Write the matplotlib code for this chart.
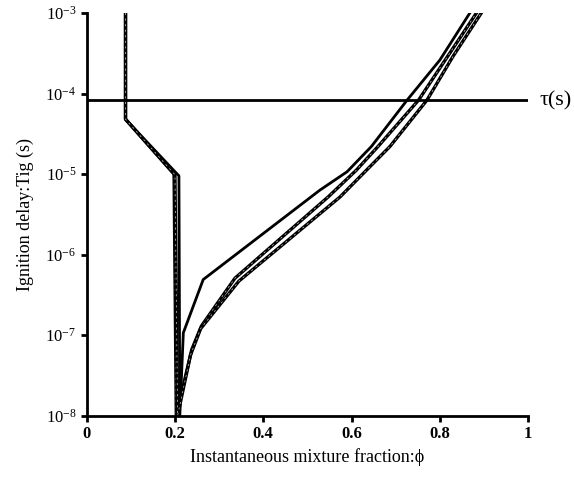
import numpy as np
import matplotlib.pyplot as plt

plt.rcParams['font.family'] = ['Liberation Serif', 'DejaVu Serif']
plt.rcParams['mathtext.fontset'] = 'custom'
plt.rcParams['mathtext.rm'] = 'Liberation Serif'
plt.rcParams['mathtext.bf'] = 'Liberation Serif:bold'

# curves (phi, ignition delay in s)
phi_a = [0.088, 0.088, 0.209, 0.211, 0.219, 0.264, 0.528, 0.59, 0.645, 0.726, 0.80, 0.868]
tig_a = [1e-3, 4.8e-5, 9.5e-6, 1e-8, 1.07e-7, 4.9e-7, 6.3e-6, 1.07e-5, 2.2e-5, 8.3e-5, 2.6e-4, 1e-3]

phi_b = [0.088, 0.088, 0.198, 0.203, 0.238, 0.26, 0.336, 0.547, 0.611, 0.660, 0.752, 0.823, 0.883]
tig_b = [1e-3, 4.8e-5, 1e-5, 1e-8, 6.6e-8, 1.3e-7, 5.1e-7, 5.2e-6, 1.12e-5, 2.2e-5, 8.3e-5, 3.2e-4, 1e-3]

phi_c = [0.088, 0.088, 0.2, 0.206, 0.235, 0.258, 0.345, 0.574, 0.634, 0.687, 0.771, 0.83, 0.894]
tig_c = [1e-3, 4.8e-5, 9.8e-6, 1e-8, 5.6e-8, 1.2e-7, 4.7e-7, 5.2e-6, 1.12e-5, 2.2e-5, 8.3e-5, 2.9e-4, 1e-3]

tau = 8.2e-5

xticks = [0, 0.2, 0.4, 0.6, 0.8, 1]
xlabels = ['0', '0.2', '0.4', '0.6', '0.8', '1']
yticks = [1e-8, 1e-7, 1e-6, 1e-5, 1e-4, 1e-3]
ylabels = [r'$\mathrm{10^{%d}}$' % e for e in range(-8, -2)]

fig = plt.figure(figsize=(5.74, 4.82), dpi=100)
ax = fig.add_axes([0.151, 0.1376, 0.769, 0.8354])

ax.plot(phi_a, tig_a, color='black', lw=2)
for px, ty in [(phi_b, tig_b), (phi_c, tig_c)]:
    ax.plot(px, ty, color='black', lw=2.4)
    ax.plot(px, ty, color='white', lw=0.5, ls=(0, (3, 5)), alpha=0.8)
ax.plot([0, 1], [tau, tau], color='black', lw=2)
ax.text(1.025, tau, 'τ(s)', fontsize=16, va='center', ha='left', clip_on=False)

ax.set_yscale('log')
ax.set_xlim(0, 1)
ax.set_ylim(1e-8, 1e-3)
ax.set_xticks(xticks)
ax.set_xticklabels(xlabels, fontsize=12, fontweight='bold')
ax.set_yticks(yticks)
ax.set_yticklabels(ylabels, fontsize=12)
ax.yaxis.set_minor_locator(plt.NullLocator())
ax.tick_params(direction='out', length=4, width=2)

for s in ['top', 'right']:
    ax.spines[s].set_visible(False)
for s in ['left', 'bottom']:
    ax.spines[s].set_linewidth(2)

ax.set_xlabel('Instantaneous mixture fraction:ϕ', fontsize=13)
ax.set_ylabel('Ignition delay:Tig (s)', fontsize=13, labelpad=8)

fig.savefig('out.png', dpi=100)
